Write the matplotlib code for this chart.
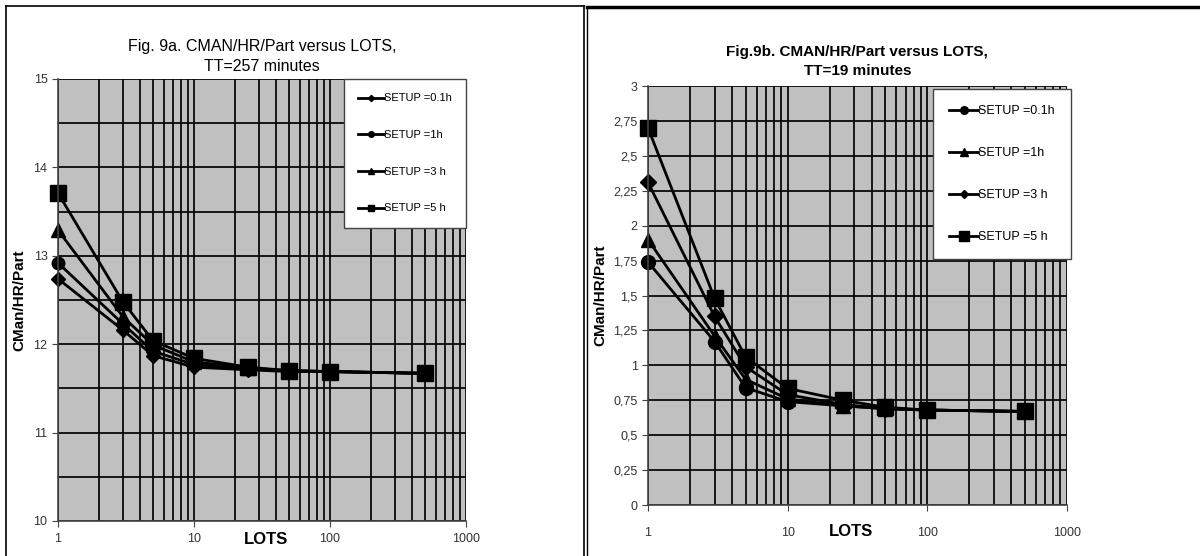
import matplotlib.pyplot as plt
from matplotlib.ticker import FixedLocator, LogLocator, NullFormatter, FuncFormatter
from matplotlib.lines import Line2D

plt.rcParams['font.family'] = ['Liberation Sans', 'DejaVu Sans']

# data
lots = [1, 3, 5, 10, 25, 50, 100, 500]

# Fig 9a, TT=257 minutes
a_setup01 = [12.74, 12.16, 11.87, 11.74, 11.71, 11.69, 11.69, 11.67]
a_setup1 = [12.92, 12.23, 11.92, 11.77, 11.72, 11.70, 11.69, 11.67]
a_setup3 = [13.29, 12.31, 11.99, 11.80, 11.73, 11.70, 11.69, 11.67]
a_setup5 = [13.71, 12.48, 12.04, 11.84, 11.74, 11.70, 11.69, 11.67]

# Fig 9b, TT=19 minutes
b_setup01 = [1.74, 1.17, 0.84, 0.74, 0.71, 0.69, 0.68, 0.67]
b_setup1 = [1.90, 1.21, 0.90, 0.76, 0.71, 0.69, 0.68, 0.67]
b_setup3 = [2.31, 1.35, 0.99, 0.79, 0.72, 0.69, 0.68, 0.67]
b_setup5 = [2.70, 1.48, 1.06, 0.835, 0.75, 0.70, 0.68, 0.67]

labels = ['SETUP =0.1h', 'SETUP =1h', 'SETUP =3 h', 'SETUP =5 h']

fig = plt.figure(figsize=(12, 5.56), dpi=100)

# panel frames
fig.add_artist(Line2D([0.005, 0.005], [0.0, 0.989], color='black', lw=1.2))
fig.add_artist(Line2D([0.005, 0.487], [0.989, 0.989], color='black', lw=1.2))
fig.add_artist(Line2D([0.487, 0.487], [0.0, 0.989], color='black', lw=1.2))
fig.add_artist(Line2D([0.489, 0.489], [0.0, 0.987], color='black', lw=1.0))
fig.add_artist(Line2D([0.489, 1.0], [0.988, 0.988], color='black', lw=2.5))

ax1 = fig.add_axes([0.0483, 0.063, 0.34, 0.795])
ax2 = fig.add_axes([0.54, 0.0917, 0.349, 0.7536])


def style(ax, ymin, ymax, ymajor, ygrid, fmt, xpad):
    ax.set_facecolor('#c0c0c0')
    ax.set_xscale('log')
    ax.set_xlim(1, 1000)
    ax.set_ylim(ymin, ymax)
    ax.xaxis.set_major_locator(FixedLocator([1, 10, 100, 1000]))
    ax.xaxis.set_major_formatter(FuncFormatter(lambda v, p: '%d' % v))
    ax.xaxis.set_minor_locator(LogLocator(base=10, subs=range(2, 10)))
    ax.xaxis.set_minor_formatter(NullFormatter())
    ax.yaxis.set_major_locator(FixedLocator(ymajor))
    ax.yaxis.set_minor_locator(FixedLocator(ygrid))
    ax.yaxis.set_major_formatter(FuncFormatter(fmt))
    ax.grid(True, which='both', color='#0a0a0a', lw=1.3)
    ax.set_axisbelow(True)
    for s in ['top', 'right']:
        ax.spines[s].set_visible(False)
    for s in ['left', 'bottom']:
        ax.spines[s].set_color('#444444')
        ax.spines[s].set_linewidth(1.2)
    ax.tick_params(which='both', length=4, color='#444444', labelsize=9, labelcolor='#333333')
    ax.tick_params(axis='x', pad=xpad)
    ax.tick_params(axis='x', which='minor', length=0)
    ax.tick_params(axis='y', which='minor', length=0)


style(ax1, 10, 15, [10, 11, 12, 13, 14, 15], [10.5, 11.5, 12.5, 13.5, 14.5],
      lambda v, p: '%d' % v, 5)
style(ax2, 0, 3, [0, 0.25, 0.5, 0.75, 1, 1.25, 1.5, 1.75, 2, 2.25, 2.5, 2.75, 3], [],
      lambda v, p: ('%g' % v).replace('.', ','), 12)

# Fig 9a
ax1.plot(lots, a_setup01, color='black', lw=2, marker='D', ms=7, label=labels[0])
ax1.plot(lots, a_setup1, color='black', lw=2, marker='o', ms=9, label=labels[1])
ax1.plot(lots, a_setup3, color='black', lw=2, marker='^', ms=10, label=labels[2])
ax1.plot(lots, a_setup5, color='black', lw=2, marker='s', ms=11, label=labels[3])

# Fig 9b
ax2.plot(lots, b_setup01, color='black', lw=2, marker='o', ms=10, label=labels[0])
ax2.plot(lots, b_setup1, color='black', lw=2, marker='^', ms=10, label=labels[1])
ax2.plot(lots, b_setup3, color='black', lw=2, marker='D', ms=8, label=labels[2])
ax2.plot(lots, b_setup5, color='black', lw=2, marker='s', ms=12, label=labels[3])

for ax in (ax1, ax2):
    for l in ax.lines:
        l.set_clip_on(False)

leg1 = ax1.legend(loc='upper right', bbox_to_anchor=(1.0, 1.0), fontsize=8,
                  markerscale=0.45, handlelength=2.3, handletextpad=0.0,
                  labelspacing=2.4, borderpad=1.3, fancybox=False, framealpha=1,
                  edgecolor='#444444', borderaxespad=0)
leg1.get_frame().set_linewidth(1.0)
leg2 = ax2.legend(loc='upper right', bbox_to_anchor=(1.01, 0.993), fontsize=9,
                  markerscale=0.55, handlelength=2.3, handletextpad=0.0,
                  labelspacing=2.4, borderpad=1.3, fancybox=False, framealpha=1,
                  edgecolor='#444444', borderaxespad=0)
leg2.get_frame().set_linewidth(1.0)

ax1.set_title('Fig. 9a. CMAN/HR/Part versus LOTS,\nTT=257 minutes', fontsize=11.5,
              linespacing=1.35, pad=6)
ax2.set_title('Fig.9b. CMAN/HR/Part versus LOTS,\nTT=19 minutes', fontsize=11,
              fontweight='bold', linespacing=1.45, pad=8)

ax1.set_ylabel('CMan/HR/Part', fontsize=11, fontweight='bold', labelpad=5)
ax2.set_ylabel('CMan/HR/Part', fontsize=11, fontweight='bold', labelpad=4)

ax1.text(0.51, -0.025, 'LOTS', transform=ax1.transAxes, ha='center', va='top',
         fontsize=12, fontweight='bold')
ax2.text(0.485, -0.045, 'LOTS', transform=ax2.transAxes, ha='center', va='top',
         fontsize=12, fontweight='bold')

fig.savefig('out.png', dpi=100, facecolor='white')
